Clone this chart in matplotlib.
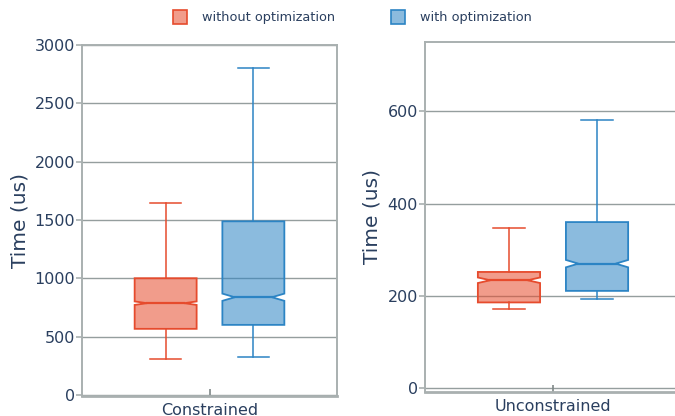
import matplotlib
matplotlib.use("Agg")
import matplotlib.pyplot as plt
from matplotlib.patches import Polygon, Rectangle

# five-number summaries (+ notch interval) per panel, read as
# [lower whisker, q1, median, q3, upper whisker], [notch low, notch high]
categories = ["Constrained", "Unconstrained"]
series = ["without optimization", "with optimization"]

constrained_without = [306, 566, 786, 1000, 1645]
constrained_without_notch = [771, 801]
constrained_with = [326, 600, 837, 1488, 2800]
constrained_with_notch = [806, 868]

unconstrained_without = [171, 186, 234, 252, 347]
unconstrained_without_notch = [228, 240]
unconstrained_with = [193, 211, 270, 360, 581]
unconstrained_with_notch = [262, 278]

y_ticks = [[0, 500, 1000, 1500, 2000, 2500, 3000], [0, 200, 400, 600]]
y_limits = [(-10, 3000), (-8, 750)]

line_colors = ["#E64B2D", "#2C84C4"]
fill_alpha = 0.55
text_color = "#2a3f5f"
grid_color = "#959E9E"
frame_color = "#A9B0B0"

W, H = 675, 416
fig = plt.figure(figsize=(W / 100, H / 100), dpi=100)
plt.rcParams["font.family"] = "DejaVu Sans"


def px_axes(x0, y0, x1, y1):
    return fig.add_axes([x0 / W, 1 - y1 / H, (x1 - x0) / W, (y1 - y0) / H])


def draw_box(ax, center, stats, notch, color, width=0.243, depth=0.2):
    lo, q1, med, q3, hi = stats
    nlo, nhi = notch
    x0, x1 = center - width / 2, center + width / 2
    d = depth * width
    pts = [(x0, q1), (x1, q1), (x1, nlo), (x1 - d, med), (x1, nhi),
           (x1, q3), (x0, q3), (x0, nhi), (x0 + d, med), (x0, nlo)]
    ax.add_patch(Polygon(pts, closed=True, facecolor=color, alpha=fill_alpha,
                         edgecolor="none", zorder=3))
    ax.add_patch(Polygon(pts, closed=True, facecolor="none", edgecolor=color,
                         lw=1.3, zorder=4))
    ax.plot([x0 + d, x1 - d], [med, med], color=color, lw=1.6, zorder=4)
    cap = width / 4
    ax.plot([center, center], [q3, hi], color=color, lw=1.1, zorder=3)
    ax.plot([center, center], [lo, q1], color=color, lw=1.1, zorder=3)
    ax.plot([center - cap, center + cap], [hi, hi], color=color, lw=1.1, zorder=3)
    ax.plot([center - cap, center + cap], [lo, lo], color=color, lw=1.1, zorder=3)


panels = [
    (px_axes(82, 45, 337, 396), [constrained_without, constrained_with],
     [constrained_without_notch, constrained_with_notch], -0.245),
    (px_axes(425, 42, 681, 392), [unconstrained_without, unconstrained_with],
     [unconstrained_without_notch, unconstrained_with_notch], -0.207),
]

for i, (ax, stats, notches, label_x) in enumerate(panels):
    for j, (s, n) in enumerate(zip(stats, notches)):
        offset = -0.172 if j == 0 else 0.172
        draw_box(ax, offset, s, n, line_colors[j])

    ax.set_xlim(-0.5, 0.5)
    ax.set_ylim(*y_limits[i])
    ax.set_yticks(y_ticks[i])
    ax.set_xticks([0])
    ax.set_xticklabels([categories[i]])
    for t in y_ticks[i]:
        ax.axhline(t, color=grid_color, lw=1.0, zorder=1)
    for side in ax.spines.values():
        side.set_color(frame_color)
        side.set_linewidth(1.4)
    ax.spines["bottom"].set_linewidth(2.0)
    ax.tick_params(axis="y", direction="out", length=4, width=1.2,
                   color=frame_color, labelcolor=text_color, labelsize=11.5, pad=1)
    ax.tick_params(axis="x", direction="in", length=5, width=1.2,
                   color="#7f8888", labelcolor=text_color, labelsize=11.5, pad=5)
    ax.set_ylabel("Time (us)", color=text_color, fontsize=14.5, va="center")
    ax.yaxis.set_label_coords(label_x, 0.5)

# horizontal legend above the panels
legend_x = [173, 391]
for j, name in enumerate(series):
    fig.add_artist(Rectangle((legend_x[j] / W, 1 - 24 / H), 14 / W, 14 / H,
                             transform=fig.transFigure, facecolor=line_colors[j],
                             alpha=fill_alpha, edgecolor="none"))
    fig.add_artist(Rectangle((legend_x[j] / W, 1 - 24 / H), 14 / W, 14 / H,
                             transform=fig.transFigure, facecolor="none",
                             edgecolor=line_colors[j], lw=1.2))
    fig.text((legend_x[j] + 29) / W, 1 - 17 / H, name, color=text_color,
             fontsize=9.3, ha="left", va="center")

fig.savefig("out.png", dpi=100)
